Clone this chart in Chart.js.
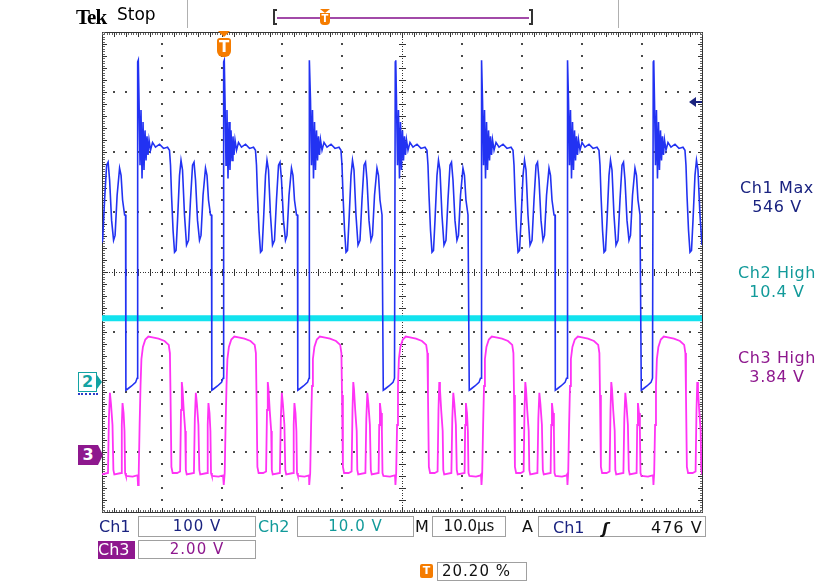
<!DOCTYPE html>
<html>
<head>
<meta charset="utf-8">
<script src="https://cdn.jsdelivr.net/npm/chart.js@4.4.1/dist/chart.umd.min.js"></script>
<style>
  body { margin: 0; background: #fff; }
  #wrap { position: relative; width: 834px; height: 585px; font-family: "DejaVu Sans", sans-serif; }
  #scope { position: absolute; left: 0; top: 0; }
  .t { position: absolute; white-space: pre; line-height: 1; }
  .box { position: absolute; border: 1px solid #a0a0a0; box-sizing: border-box; text-align: center; white-space: pre; }
  .meas { position: absolute; width: 120px; left: 717px; text-align: center; font-size: 16px; line-height: 19px; letter-spacing: 0.6px; }
</style>
</head>
<body>
<div id="wrap">
  <canvas id="scope" width="834" height="585"></canvas>

  <!-- header -->
  <div class="t" style="left:76px;top:5px;font:bold 21px 'Liberation Serif',serif;letter-spacing:-1px;">Tek</div>
  <div class="t" style="left:117px;top:6px;font-size:17px;">Stop</div>
  <div style="position:absolute;left:187px;top:0;width:1px;height:28px;background:#b0b0b0;"></div>
  <div style="position:absolute;left:618px;top:0;width:1px;height:28px;background:#b0b0b0;"></div>
  <div style="position:absolute;left:273px;top:9px;width:4px;height:16px;border:2px solid #333;border-right:none;box-sizing:border-box;"></div>
  <div style="position:absolute;left:529px;top:9px;width:4px;height:16px;border:2px solid #333;border-left:none;box-sizing:border-box;"></div>
  <div style="position:absolute;left:277px;top:17px;width:252px;height:2px;background:#a24aa8;"></div>
  <div style="position:absolute;left:320px;top:9px;width:0;height:0;border-left:5px solid transparent;border-right:5px solid transparent;border-top:4px solid #f57c00;"></div>
  <div class="t" style="left:320px;top:13px;width:10px;height:12px;background:#f57c00;border-radius:0 0 4px 4px;color:#fff;font:bold 10px 'DejaVu Sans';text-align:center;line-height:12px;">T</div>

  <!-- trigger position marker in plot -->
  <div style="position:absolute;left:218px;top:31px;width:0;height:0;border-left:6px solid transparent;border-right:6px solid transparent;border-top:6px solid #f57c00;"></div>
  <div class="t" style="left:217px;top:38px;width:14px;height:19px;background:#f57c00;border-radius:3px 3px 6px 6px;color:#fff;font:bold 15px 'DejaVu Sans';text-align:center;line-height:19px;">T</div>

  <!-- channel markers -->
  <div class="t" style="left:78px;top:372px;width:19px;height:20px;border:1.5px solid #13a3a3;box-sizing:border-box;background:#fff;color:#13a3a3;font:bold 16px 'DejaVu Sans';text-align:center;line-height:18px;">2</div>
  <div style="position:absolute;left:97px;top:375px;width:0;height:0;border-top:7px solid transparent;border-bottom:7px solid transparent;border-left:5px solid #13a3a3;"></div>
  <div style="position:absolute;left:78px;top:393px;width:20px;height:0;border-top:2px dotted #2c3cc8;"></div>
  <div class="t" style="left:78px;top:445px;width:20px;height:20px;background:#8e188e;color:#fff;font:bold 16px 'DejaVu Sans';text-align:center;line-height:20px;">3</div>
  <div style="position:absolute;left:98px;top:445px;width:0;height:0;border-top:10px solid transparent;border-bottom:10px solid transparent;border-left:5px solid #8e188e;"></div>

  <!-- trigger level arrow -->
  <div style="position:absolute;left:689px;top:97px;width:0;height:0;border-top:5px solid transparent;border-bottom:5px solid transparent;border-right:7px solid #1a237e;"></div>
  <div style="position:absolute;left:695px;top:101px;width:7px;height:2px;background:#1a237e;"></div>

  <!-- measurements -->
  <div class="meas" style="top:178px;color:#1a2380;">Ch1 Max<br>546 V</div>
  <div class="meas" style="top:263px;color:#129a9a;">Ch2 High<br>10.4 V</div>
  <div class="meas" style="top:348px;color:#8e188e;">Ch3 High<br>3.84 V</div>

  <!-- readouts -->
  <div class="t" style="left:99px;top:519px;font-size:16px;color:#1a2380;">Ch1</div>
  <div class="box" style="left:138px;top:516px;width:118px;height:21px;font-size:15px;line-height:19px;color:#1a2380;letter-spacing:1px;">100 V</div>
  <div class="t" style="left:258px;top:519px;font-size:16px;color:#129a9a;">Ch2</div>
  <div class="box" style="left:297px;top:516px;width:117px;height:21px;font-size:15px;line-height:19px;color:#129a9a;letter-spacing:1px;">10.0 V</div>
  <div class="t" style="left:415px;top:519px;font-size:16px;color:#111;">M</div>
  <div class="box" style="left:432px;top:516px;width:74px;height:21px;font-size:15px;line-height:19px;color:#111;">10.0µs</div>
  <div class="t" style="left:522px;top:519px;font-size:16px;color:#111;">A</div>
  <div class="box" style="left:538px;top:516px;width:168px;height:21px;"></div>
  <div class="t" style="left:553px;top:520px;font-size:16px;color:#1a2380;">Ch1</div>
  <div class="t" style="left:602px;top:519px;font:italic bold 16px 'DejaVu Sans';color:#111;">ʃ</div>
  <div class="t" style="left:651px;top:520px;font-size:16px;color:#111;letter-spacing:1px;">476 V</div>
  <div class="t" style="left:98px;top:541px;width:37px;height:18px;background:#8e188e;font-size:16px;line-height:18px;color:#fff;">Ch3</div>
  <div class="box" style="left:138px;top:540px;width:118px;height:19px;font-size:15px;line-height:17px;color:#8e188e;letter-spacing:1px;">2.00 V</div>
  <div class="t" style="left:420px;top:564px;width:13px;height:14px;background:#f57c00;border-radius:2px;color:#fff;font:bold 11px 'DejaVu Sans';text-align:center;line-height:14px;">T</div>
  <div class="box" style="left:437px;top:562px;width:90px;height:19px;font-size:15px;line-height:17px;color:#111;text-align:left;padding-left:4px;letter-spacing:1px;">20.20 %</div>
</div>

<script>
// settings
const voltsPerDiv = [100, 10, 2];          // Ch1, Ch2, Ch3
const groundDiv = [-1.92, -1.82, -3.05];   // ground markers, divisions from centre
const timeMin = -20.2, timeMax = 79.8;     // µs, trigger at 20.20 %

// Ch1 rising edges (µs from trigger), shape of one switching period after each edge
const ch1RiseTimes = [-28.6, -14.28, 0.05, 14.3, 28.63, 42.97, 57.3, 71.63];
const ch1Offsets = [0, 0.05, 0.13, 0.25, 0.42, 0.58, 0.75, 0.92, 1.08, 1.25, 1.42, 1.58, 1.75, 1.92,
  2.17, 2.5, 3.0, 3.67, 4.33, 5.0, 5.33, 5.5, 5.67, 5.92, 6.17, 6.42, 6.67, 7.0, 7.25, 7.5, 7.83,
  8.17, 8.5, 8.83, 9.17, 9.42, 9.67, 10.0, 10.33, 10.58, 10.92, 11.33, 11.58, 11.83, 12.17, 12.33,
  12.38, 12.67, 13.33, 14.0, 14.25];
const ch1Volts = [15, 542, 545, 478, 370, 462, 348, 442, 362, 428, 378, 418, 387, 412,
  395, 408, 400, 405, 398, 400, 395, 370, 320, 262, 225, 228, 278, 353, 378, 362, 287,
  237, 245, 312, 370, 375, 345, 278, 245, 253, 320, 365, 353, 312, 287, 287,
  -5, -3, 2, 8, 15];

// Ch2 stays flat
const ch2Times = [timeMin, timeMax];
const ch2Volts = [10.5, 10.5];

// Ch3 gate-like signal, same period as Ch1
const ch3Offsets = [0, 0.08, 0.2, 0.35, 0.5, 0.65, 0.9, 1.3, 1.8, 2.5, 3.5, 4.5, 5.2, 5.4, 5.5,
  5.65, 5.85, 6.6, 7.1, 7.25, 7.38, 7.5, 7.7, 7.95, 8.05, 8.2, 9.4, 9.55, 9.72, 9.9, 10.15, 10.3,
  10.45, 11.6, 11.7, 11.82, 12.0, 12.15, 12.25, 12.4, 13.5, 14.25];
const ch3Volts = [-0.65, -1.0, -0.6, 1.0, 2.3, 3.2, 3.6, 3.85, 3.95, 3.92, 3.88, 3.8, 3.67, 3.4, 2.0,
  -0.4, -0.6, -0.6, -0.55, 1.5, 2.43, 2.2, 1.5, 0.8, -0.5, -0.65, -0.6, 1.2, 2.07, 1.7, 1.0, -0.5,
  -0.65, -0.6, 1.0, 1.73, 1.4, 0.8, -0.6, -0.7, -0.72, -0.68];

function toDiv(ch, v) { return groundDiv[ch] + v / voltsPerDiv[ch]; }

function buildPeriodic(ch, rises, offsets, volts) {
  const pts = [];
  rises.forEach(r => offsets.forEach((dt, i) => pts.push({ x: r + dt, y: toDiv(ch, volts[i]) })));
  return pts;
}

const ch1Data = buildPeriodic(0, ch1RiseTimes, ch1Offsets, ch1Volts);
const ch2Data = ch2Times.map((t, i) => ({ x: t, y: toDiv(1, ch2Volts[i]) }));
const ch3Data = buildPeriodic(2, ch1RiseTimes, ch3Offsets, ch3Volts);

// Tek style graticule: dotted divisions, ticked centre lines and frame
const graticule = {
  id: 'graticule',
  beforeDatasetsDraw(chart) {
    const { ctx, chartArea: a } = chart;
    const xs = chart.scales.x, ys = chart.scales.y;
    const xd = (a.right - a.left) / 10, yd = (a.bottom - a.top) / 8;
    const cx = xs.getPixelForValue((timeMin + timeMax) / 2), cy = ys.getPixelForValue(0);
    ctx.save();
    ctx.fillStyle = '#4a4a4a';
    for (let i = 1; i < 10; i++) {
      if (i === 5) continue;
      const px = Math.round(a.left + i * xd);
      for (let j = 1; j < 40; j++) ctx.fillRect(px - 1, Math.round(a.top + j * yd / 5) - 1, 2, 2);
    }
    for (let i = 1; i < 8; i++) {
      if (i === 4) continue;
      const py = Math.round(a.top + i * yd);
      for (let j = 1; j < 50; j++) ctx.fillRect(Math.round(a.left + j * xd / 5) - 1, py - 1, 2, 2);
    }
    // centre lines
    ctx.fillStyle = '#333';
    for (let p = a.left; p <= a.right; p += xd / 25) ctx.fillRect(Math.round(p), Math.round(cy), 1, 1);
    for (let p = a.top; p <= a.bottom; p += yd / 25) ctx.fillRect(Math.round(cx), Math.round(p), 1, 1);
    for (let j = 1; j < 50; j++) ctx.fillRect(Math.round(a.left + j * xd / 5), Math.round(cy) - 3, 1, 7);
    for (let j = 1; j < 40; j++) ctx.fillRect(Math.round(cx) - 3, Math.round(a.top + j * yd / 5), 7, 1);
    // frame with ticks
    ctx.strokeStyle = '#333';
    ctx.lineWidth = 1;
    ctx.strokeRect(Math.round(a.left) + 0.5, Math.round(a.top) + 0.5, Math.round(a.right - a.left), Math.round(a.bottom - a.top));
    ctx.fillStyle = '#666';
    for (let p = a.left; p <= a.right; p += xd / 25) {
      ctx.fillRect(Math.round(p), Math.round(a.top) + 1, 1, 2);
      ctx.fillRect(Math.round(p), Math.round(a.bottom) - 2, 1, 2);
    }
    for (let p = a.top; p <= a.bottom; p += yd / 25) {
      ctx.fillRect(Math.round(a.left) + 1, Math.round(p), 2, 1);
      ctx.fillRect(Math.round(a.right) - 2, Math.round(p), 2, 1);
    }
    ctx.fillStyle = '#333';
    for (let j = 1; j < 50; j++) {
      const px = Math.round(a.left + j * xd / 5);
      ctx.fillRect(px, Math.round(a.top) + 1, 1, 4);
      ctx.fillRect(px, Math.round(a.bottom) - 4, 1, 4);
    }
    for (let j = 1; j < 40; j++) {
      const py = Math.round(a.top + j * yd / 5);
      ctx.fillRect(Math.round(a.left) + 1, py, 4, 1);
      ctx.fillRect(Math.round(a.right) - 4, py, 4, 1);
    }
    ctx.restore();
  }
};

new Chart(document.getElementById('scope'), {
  type: 'line',
  data: {
    datasets: [
      { label: 'Ch1', data: ch1Data, borderColor: '#2232f2', borderWidth: 1.6 },
      { label: 'Ch2', data: ch2Data, borderColor: '#12e2ee', borderWidth: 6 },
      { label: 'Ch3', data: ch3Data, borderColor: '#ff33f5', borderWidth: 1.8 }
    ]
  },
  options: {
    responsive: false,
    animation: false,
    parsing: false,
    layout: { padding: { left: 102, right: 132, top: 32, bottom: 73 } },
    elements: { point: { radius: 0 }, line: { tension: 0 } },
    plugins: { legend: { display: false }, tooltip: { enabled: false } },
    scales: {
      x: { type: 'linear', min: timeMin, max: timeMax, display: false },
      y: { min: -4, max: 4, display: false }
    }
  },
  plugins: [graticule]
});
</script>
</body>
</html>
